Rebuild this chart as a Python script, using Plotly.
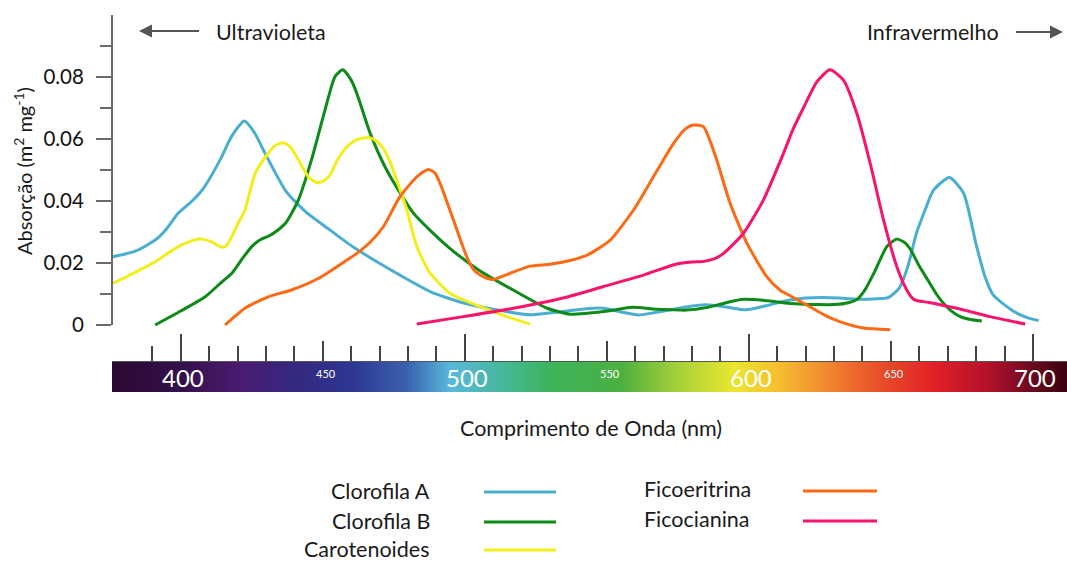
import plotly.graph_objects as go
import numpy as np

# ---------------- data ----------------
cloA_wl = [376, 384, 391, 395, 399, 404, 408, 414, 418, 422.4, 426, 430, 437, 444, 452.6, 458, 464, 476, 488, 500,
           511, 523, 534, 542, 549, 555, 561, 567, 572, 579, 585, 592, 599, 606, 614, 620, 626, 632, 638, 644, 649,
           653, 656, 659, 662, 665, 670.6, 675.6, 680, 683, 686, 690, 694, 698, 702]
cloA_ab = [0.022, 0.0238, 0.0274, 0.031, 0.036, 0.040, 0.0441, 0.0535, 0.0610, 0.0658, 0.062, 0.0548, 0.0432, 0.0365,
           0.0306, 0.0269, 0.0232, 0.0167, 0.0107, 0.0070, 0.0049, 0.0033, 0.0043, 0.0052, 0.0054, 0.0042, 0.0032,
           0.0040, 0.0048, 0.0060, 0.0065, 0.0058, 0.0049, 0.0062, 0.0080, 0.0087, 0.0089, 0.0087, 0.0083, 0.0084,
           0.0088, 0.0120, 0.019, 0.0296, 0.037, 0.0435, 0.0476, 0.0425, 0.026, 0.016, 0.0097, 0.0065, 0.0040,
           0.0024, 0.0014]

cloB_wl = [391, 400, 408.6, 414, 418, 422, 425, 428, 431, 434, 437, 441.4, 446, 450.8, 454.3, 457, 460, 462, 466.7,
           472.5, 482, 494, 505, 517, 529, 537, 543, 551, 559, 566, 573, 578, 585, 592, 598, 605, 612, 618, 624, 630,
           635, 638, 641, 644, 648.6, 652, 655, 657, 660, 663, 666, 668.5, 671, 674.4, 678, 682]
cloB_ab = [0.0, 0.0045, 0.0091, 0.0135, 0.0167, 0.0218, 0.0253, 0.0275, 0.0287, 0.0305, 0.0330, 0.0403, 0.0532,
           0.0694, 0.0801, 0.0823, 0.0790, 0.0747, 0.0618, 0.0500, 0.0360, 0.0253, 0.0177, 0.0113, 0.0054, 0.0035,
           0.0038, 0.0046, 0.0057, 0.0052, 0.0049, 0.0048, 0.0056, 0.0072, 0.0083, 0.0080, 0.0072, 0.0068, 0.0066,
           0.0066, 0.0072, 0.0082, 0.0115, 0.0167, 0.0253, 0.0277, 0.0265, 0.0242, 0.019, 0.0145, 0.010, 0.0070,
           0.0047, 0.0027, 0.0018, 0.0013]

caro_wl = [376, 384, 391, 396, 401.5, 405, 407.4, 410.9, 414.4, 416, 418, 420, 422.6, 426.2, 430.8, 433, 436.1, 438.5,
           440.8, 444.9, 447.9, 450.5, 452.6, 455, 458.5, 462, 466.1, 469, 471.3, 474, 476, 479.6, 483.1, 487.8,
           494.8, 505.4, 514.8, 523]
caro_ab = [0.0134, 0.0170, 0.0204, 0.0235, 0.0263, 0.0275, 0.0277, 0.0268, 0.0251, 0.0255, 0.0285, 0.0325, 0.0371,
           0.0489, 0.0554, 0.0577, 0.0588, 0.0575, 0.0543, 0.0478, 0.0459, 0.0466, 0.0484, 0.0530, 0.0575, 0.0598,
           0.0605, 0.0593, 0.0570, 0.0520, 0.0468, 0.0371, 0.0253, 0.0167, 0.0102, 0.0059, 0.0027, 0.0003]

fier_wl = [415.6, 422.6, 430.8, 439, 448.4, 457.9, 462, 467, 471.3, 477.2, 483.1, 487.2, 489.5, 491.3, 496, 500.7,
           503, 505.4, 508, 510.1, 516, 523, 530, 537, 543, 551.2, 559.4, 566.4, 573.5, 578, 580.5, 584, 586.5,
           588.7, 593.4, 599.3, 606.3, 611, 615, 621.6, 627, 632.2, 640.4, 649.8]
fier_ab = [0.0, 0.0054, 0.0091, 0.0113, 0.0150, 0.0206, 0.0231, 0.0270, 0.0317, 0.0414, 0.0478, 0.0502, 0.0490,
           0.0457, 0.0339, 0.0220, 0.0180, 0.0161, 0.0150, 0.0147, 0.0167, 0.0190, 0.0196, 0.0208, 0.0225, 0.0274,
           0.0371, 0.0478, 0.0586, 0.0635, 0.0645, 0.0640, 0.0590, 0.0532, 0.0393, 0.0264, 0.0156, 0.0112, 0.0092,
           0.0058, 0.0030, 0.0010, -0.0010, -0.0015]

fcia_wl = [483.1, 499.5, 517.1, 535, 548.8, 562.9, 574.6, 580, 584, 588, 591.1, 598.1, 605.1, 612.2, 615.5, 619.2,
           624, 628.6, 633.3, 638, 642.7, 647.4, 652.1, 655.6, 658, 659.5, 663.8, 673.2, 685, 697.3]
fcia_ab = [0.0003, 0.0027, 0.0054, 0.0088, 0.0124, 0.0161, 0.0197, 0.0203, 0.0205, 0.0214, 0.0231, 0.0296, 0.0403,
           0.0554, 0.0630, 0.0700, 0.0785, 0.0823, 0.0790, 0.0683, 0.0522, 0.0339, 0.0188, 0.0113, 0.0083, 0.0078,
           0.0072, 0.0054, 0.0027, 0.0003]

series_names = ["Clorofila A", "Clorofila B", "Carotenoides", "Ficoeritrina", "Ficocianina"]
series_colors = ["#4aaed0", "#0d8a17", "#f2ee1a", "#fb6a14", "#f6146c"]
series_data = [(cloA_wl, cloA_ab), (cloB_wl, cloB_ab), (caro_wl, caro_ab), (fier_wl, fier_ab), (fcia_wl, fcia_ab)]

y_tickvals = [0, 0.02, 0.04, 0.06, 0.08]
y_ticktext = ["0", "0.02", "0.04", "0.06", "0.08"]
y_minor = [0.01, 0.03, 0.05, 0.07, 0.09]

x_major = [400, 500, 600, 700]
x_mid = [450, 550, 650]
x_minor = [w for w in range(390, 700, 10) if w % 50 != 0]
bar_labels_big = ["400", "500", "600", "700"]
bar_labels_small = ["450", "550", "650"]

spec_wl = [376, 400, 420, 440, 460, 480, 495, 510, 530, 555, 575, 595, 610, 625, 645, 665, 685, 700, 712]
spec_col = ["#2a0a33", "#33104a", "#4a1a6e", "#35287f", "#2c3593", "#3b62ae", "#5ab8dc", "#4ab7a6", "#3db45c",
            "#4bb040", "#a6d03a", "#ebe630", "#f6c030", "#f29030", "#e8522a", "#e32028", "#b0102a", "#6a0a20",
            "#3a0210"]

XMIN, XMAX = 375.8, 712.0
FONT = "Lato"
TXT = 21.5

# ---------------- figure ----------------
fig = go.Figure()

# spectrum bar
bar_x = np.arange(XMIN, XMAX + 0.5, 0.5)
cs = [[(w - spec_wl[0]) / (spec_wl[-1] - spec_wl[0]), c] for w, c in zip(spec_wl, spec_col)]
fig.add_trace(go.Heatmap(x=bar_x, y=[0], z=[bar_x], colorscale=cs, zmin=spec_wl[0], zmax=spec_wl[-1],
                         showscale=False, hoverinfo="skip", xaxis="x", yaxis="y2"))

for name, col, (wl, ab) in zip(series_names, series_colors, series_data):
    fig.add_trace(go.Scatter(x=wl, y=ab, mode="lines", name=name,
                             line=dict(color=col, width=3, shape="spline", smoothing=0.6),
                             xaxis="x", yaxis="y", showlegend=False))

# dummy trace for the 50-nm ticks axis
fig.add_trace(go.Scatter(x=[XMIN], y=[0], mode="markers", marker=dict(opacity=0), xaxis="x2", yaxis="y2",
                         showlegend=False, hoverinfo="skip"))

H = 562.0
W_PLOT = 1067.0 - 112.0


def px(xp):
    return (xp - 112.0) / W_PLOT


def py(yp):
    return 1 - yp / H


fig.update_layout(
    width=1067, height=562,
    margin=dict(l=112, r=0, t=0, b=0, autoexpand=False),
    paper_bgcolor="white", plot_bgcolor="rgba(0,0,0,0)",
    font=dict(family=FONT, color="#1a1a1a"),
    showlegend=False,
    xaxis=dict(domain=[0, 1], range=[XMIN, XMAX], anchor="y2", side="top", showgrid=False, zeroline=False,
               showline=True, linecolor="#555", linewidth=1, automargin=False,
               ticks="outside", tickmode="array", tickvals=x_major, ticklen=27, tickwidth=2, tickcolor="#444",
               showticklabels=False,
               minor=dict(tickmode="array", tickvals=x_minor, ticks="outside", ticklen=15, tickwidth=1.6,
                          tickcolor="#444")),
    xaxis2=dict(domain=[0, 1], range=[XMIN, XMAX], anchor="y2", side="top", overlaying="x", showgrid=False,
                zeroline=False, showline=False, ticks="outside", tickmode="array", tickvals=x_mid, ticklen=20,
                tickwidth=1.8, tickcolor="#444", showticklabels=False, automargin=False),
    yaxis=dict(domain=[py(331.2), py(15)], range=[-0.002, 0.1], anchor="x", showgrid=False, zeroline=False,
               showline=False, ticks="outside", tickmode="array", tickvals=y_tickvals, ticktext=y_ticktext,
               ticklen=15, tickwidth=2, tickcolor="#6a6a6a", ticklabelstandoff=8, automargin=False,
               tickfont=dict(size=20.5, family=FONT, color="#111"),
               minor=dict(tickmode="array", tickvals=y_minor, ticks="outside", ticklen=11, tickwidth=2,
                          tickcolor="#6a6a6a")),
    yaxis2=dict(domain=[py(392), py(362)], range=[-0.5, 0.5], anchor="x", visible=False, automargin=False),
)

shapes = [dict(type="line", xref="paper", yref="y", x0=0, x1=0, y0=0, y1=0.1,
               line=dict(color="#6a6a6a", width=2))]
annotations = []

# bar labels
for v, t in zip(x_major, bar_labels_big):
    annotations.append(dict(x=v + 0.8, y=py(377), xref="x", yref="paper", text=t, showarrow=False,
                            font=dict(size=24, color="white", family=FONT), xanchor="center", yanchor="middle"))
for v, t in zip(x_mid, bar_labels_small):
    annotations.append(dict(x=v + 1.2, y=py(373.5), xref="x", yref="paper", text=t, showarrow=False,
                            font=dict(size=11, color="white", family=FONT), xanchor="center", yanchor="middle"))

# axis titles
annotations.append(dict(x=px(591), y=py(428), xref="paper", yref="paper", text="Comprimento de Onda (nm)",
                        showarrow=False, font=dict(size=TXT, family=FONT), xanchor="center", yanchor="middle"))
annotations.append(dict(x=px(23), y=py(171), xref="paper", yref="paper",
                        text="Absorção (m<sup>2</sup> mg<sup>-1</sup>)", textangle=-90,
                        showarrow=False, font=dict(size=20, family=FONT), xanchor="center", yanchor="middle"))

# UV / IR labels and arrows
annotations.append(dict(x=px(214), y=py(32), xref="paper", yref="paper", text="Ultravioleta", showarrow=False,
                        font=dict(size=TXT, family=FONT), xanchor="left", yanchor="middle"))
annotations.append(dict(x=px(865), y=py(32), xref="paper", yref="paper", text="Infravermelho", showarrow=False,
                        font=dict(size=TXT, family=FONT), xanchor="left", yanchor="middle"))
annotations.append(dict(x=px(139), y=py(31), xref="paper", yref="paper", text=" ", showarrow=True,
                        ax=62, ay=0, arrowhead=2, arrowsize=1.3, arrowwidth=2, arrowcolor="#555",
                        font=dict(size=2)))
annotations.append(dict(x=px(1063), y=py(32), xref="paper", yref="paper", text=" ", showarrow=True,
                        ax=-49, ay=0, arrowhead=2, arrowsize=1.3, arrowwidth=2, arrowcolor="#555",
                        font=dict(size=2)))

# custom legend
leg_left = [("Clorofila A", 0, 491), ("Clorofila B", 1, 521), ("Carotenoides", 2, 549)]
for name, i, yy in leg_left:
    annotations.append(dict(x=px(432), y=py(yy), xref="paper", yref="paper", text=name, showarrow=False,
                            font=dict(size=TXT, family=FONT), xanchor="right", yanchor="middle"))
    shapes.append(dict(type="line", xref="paper", yref="paper", x0=px(484), x1=px(556), y0=py(yy + 1),
                       y1=py(yy + 1), line=dict(color=series_colors[i], width=3)))
leg_right = [("Ficoeritrina", 3, 489), ("Ficocianina", 4, 519)]
for name, i, yy in leg_right:
    annotations.append(dict(x=px(642), y=py(yy), xref="paper", yref="paper", text=name, showarrow=False,
                            font=dict(size=TXT, family=FONT), xanchor="left", yanchor="middle"))
    shapes.append(dict(type="line", xref="paper", yref="paper", x0=px(803), x1=px(877), y0=py(yy + 2),
                       y1=py(yy + 2), line=dict(color=series_colors[i], width=3)))

fig.update_layout(shapes=shapes, annotations=annotations)
fig.write_html("out.html", config={"displayModeBar": False},
               post_script="document.body.style.margin='0px';document.body.style.overflow='hidden';")
